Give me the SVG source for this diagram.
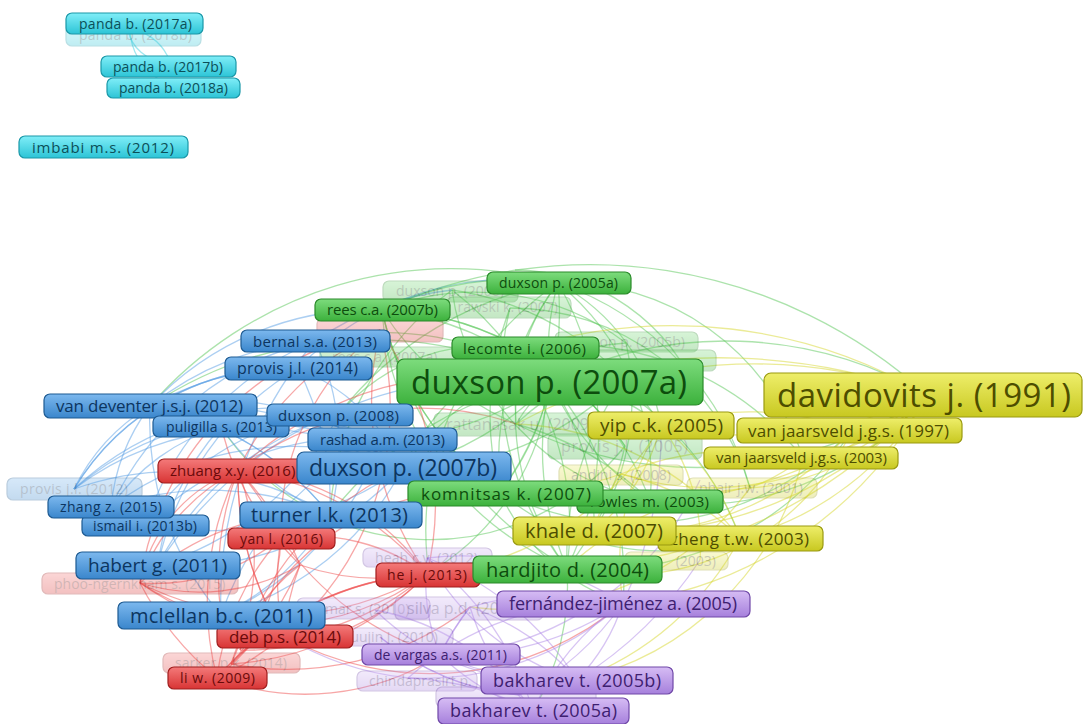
<svg xmlns="http://www.w3.org/2000/svg" width="1089" height="724" viewBox="0 0 1089 724">
<style>
text{font-family:"Open Sans","DejaVu Sans",sans-serif}
.nd rect{stroke-width:1.2}
.f{opacity:.3}
.c rect{fill:url(#gc);stroke:#1a98a8}.c text{fill:#0b4f58}
.g rect{fill:url(#gg);stroke:#2a8a2a}.g text{fill:#0d4d0d}
.y rect{fill:url(#gy);stroke:#9a9a10}.y text{fill:#4d4d00}
.b rect{fill:url(#gb);stroke:#1d5a92}.b text{fill:#0c3560}
.r rect{fill:url(#gr);stroke:#a01e1e}.r text{fill:#6a0a0a}
.p rect{fill:url(#gp);stroke:#7048a8}.p text{fill:#3e2070}
#connectors path{fill:none;stroke-width:1.3;stroke-opacity:.5}
.ec{stroke:#40d0e0}.eg{stroke:#5ac85a}.ey{stroke:#d8d830}.eb{stroke:#5aa0e6}.er{stroke:#f05050}.ep{stroke:#b08ae8}
</style>
<defs>
<linearGradient id="gc" x1="0" y1="0" x2="0" y2="1"><stop offset="0" stop-color="#80eef8"/><stop offset="1" stop-color="#2cc4d6"/></linearGradient>
<linearGradient id="gg" x1="0" y1="0" x2="0" y2="1"><stop offset="0" stop-color="#7ddc7d"/><stop offset="1" stop-color="#3cb13c"/></linearGradient>
<linearGradient id="gy" x1="0" y1="0" x2="0" y2="1"><stop offset="0" stop-color="#eeee6a"/><stop offset="1" stop-color="#c8c820"/></linearGradient>
<linearGradient id="gb" x1="0" y1="0" x2="0" y2="1"><stop offset="0" stop-color="#7cb8ee"/><stop offset="1" stop-color="#3a86cc"/></linearGradient>
<linearGradient id="gr" x1="0" y1="0" x2="0" y2="1"><stop offset="0" stop-color="#f47a7a"/><stop offset="1" stop-color="#d83434"/></linearGradient>
<linearGradient id="gp" x1="0" y1="0" x2="0" y2="1"><stop offset="0" stop-color="#d6bcf4"/><stop offset="1" stop-color="#a680dc"/></linearGradient>
</defs>
<g id="connectors">
<path class="ec" d="M128 30A40 40 0 0 0 165 62"/>
<path class="ec" d="M135 30A50 50 0 0 1 170 62"/>
<path class="ec" d="M130 30A60 60 0 0 0 160 80"/>
<path class="eg" d="M550 382A250 250 0 0 1 558 283"/>
<path class="eg" d="M550 382A300 300 0 0 0 382 310"/>
<path class="eg" d="M550 382A200 200 0 0 1 525 348"/>
<path class="eg" d="M550 382A250 250 0 0 1 500 492"/>
<path class="eg" d="M550 382A300 300 0 0 0 567 568"/>
<path class="eg" d="M550 382A400 400 0 0 1 927 395"/>
<path class="eg" d="M550 382A200 200 0 0 1 661 425"/>
<path class="eg" d="M550 382A250 250 0 0 1 594 531"/>
<path class="eg" d="M550 382A300 300 0 0 0 315 341"/>
<path class="eg" d="M550 382A300 300 0 0 1 403 468"/>
<path class="eg" d="M550 382A300 300 0 0 1 623 603"/>
<path class="eg" d="M550 382A400 400 0 0 0 150 406"/>
<path class="eg" d="M558 283A300 300 0 0 0 382 310"/>
<path class="eg" d="M558 283A300 300 0 0 1 500 492"/>
<path class="eg" d="M558 283A200 200 0 0 1 661 425"/>
<path class="eg" d="M558 283A300 300 0 0 1 567 568"/>
<path class="eg" d="M558 283A400 400 0 0 0 150 406"/>
<path class="eg" d="M558 283A300 300 0 0 1 750 488"/>
<path class="eg" d="M558 283A250 250 0 0 1 803 458"/>
<path class="eg" d="M558 283A300 300 0 0 0 427 558"/>
<path class="eg" d="M382 310A300 300 0 0 0 500 492"/>
<path class="eg" d="M382 310A300 300 0 0 0 567 568"/>
<path class="eg" d="M382 310A500 500 0 0 1 927 395"/>
<path class="eg" d="M382 310A250 250 0 0 1 626 343"/>
<path class="eg" d="M525 348A250 250 0 0 0 567 568"/>
<path class="eg" d="M525 348A300 300 0 0 1 803 458"/>
<path class="eg" d="M525 348A200 200 0 0 0 339 414"/>
<path class="eg" d="M525 348A300 300 0 0 1 740 538"/>
<path class="eg" d="M500 492A250 250 0 0 0 740 538"/>
<path class="eg" d="M500 492A200 200 0 0 0 623 603"/>
<path class="eg" d="M500 492A300 300 0 0 1 558 283"/>
<path class="eg" d="M650 501A300 300 0 0 0 927 395"/>
<path class="eg" d="M650 501A250 250 0 0 1 452 290"/>
<path class="eg" d="M567 568A300 300 0 0 0 852 430"/>
<path class="eg" d="M567 568A250 250 0 0 1 533 711"/>
<path class="eg" d="M567 568A300 300 0 0 1 510 308"/>
<path class="eg" d="M516 424A400 400 0 0 0 927 395"/>
<path class="eg" d="M516 424A250 250 0 0 1 640 360"/>
<path class="eg" d="M452 290A300 300 0 0 1 661 425"/>
<path class="eg" d="M452 290A300 300 0 0 0 330 515"/>
<path class="eg" d="M510 308A250 250 0 0 1 750 488"/>
<path class="eg" d="M626 343A250 250 0 0 1 594 531"/>
<path class="eg" d="M640 360A300 300 0 0 1 403 468"/>
<path class="eg" d="M625 446A300 300 0 0 0 382 310"/>
<path class="eg" d="M625 446A250 250 0 0 1 221 427"/>
<path class="eg" d="M515 270A200 200 0 0 1 700 400"/>
<path class="eg" d="M550 382A350 350 0 0 0 330 515"/>
<path class="eg" d="M550 382A250 250 0 0 1 427 574"/>
<path class="eg" d="M550 382A300 300 0 0 0 650 501"/>
<path class="eg" d="M550 382A200 200 0 0 0 516 424"/>
<path class="eg" d="M550 382A300 300 0 0 1 382 439"/>
<path class="eg" d="M558 283A350 350 0 0 0 339 414"/>
<path class="eg" d="M558 283A250 250 0 0 1 650 501"/>
<path class="eg" d="M558 283A200 200 0 0 0 516 424"/>
<path class="eg" d="M525 348A250 250 0 0 0 403 468"/>
<path class="eg" d="M525 348A300 300 0 0 1 650 501"/>
<path class="eg" d="M500 492A300 300 0 0 1 382 310"/>
<path class="eg" d="M500 492A300 300 0 0 0 852 430"/>
<path class="eg" d="M567 568A300 300 0 0 0 625 446"/>
<path class="eg" d="M567 568A400 400 0 0 1 382 310"/>
<path class="eg" d="M650 501A300 300 0 0 0 516 424"/>
<path class="eg" d="M626 343A300 300 0 0 0 403 468"/>
<path class="eg" d="M640 360A300 300 0 0 0 567 568"/>
<path class="eg" d="M452 290A300 300 0 0 1 567 568"/>
<path class="eg" d="M510 308A300 300 0 0 0 500 492"/>
<path class="eg" d="M382 310A300 300 0 0 1 625 446"/>
<path class="eg" d="M516 424A300 300 0 0 1 382 310"/>
<path class="ey" d="M927 395A400 400 0 0 1 661 425"/>
<path class="ey" d="M927 395A150 150 0 0 1 852 430"/>
<path class="ey" d="M927 395A200 200 0 0 1 803 458"/>
<path class="ey" d="M927 395A400 400 0 0 1 594 531"/>
<path class="ey" d="M927 395A300 300 0 0 1 740 538"/>
<path class="ey" d="M927 395A300 300 0 0 1 621 474"/>
<path class="ey" d="M927 395A250 250 0 0 1 750 488"/>
<path class="ey" d="M927 395A500 500 0 0 0 525 348"/>
<path class="ey" d="M927 395A400 400 0 0 1 623 603"/>
<path class="ey" d="M927 395A500 500 0 0 1 500 492"/>
<path class="ey" d="M927 395A600 600 0 0 0 550 382"/>
<path class="ey" d="M661 425A250 250 0 0 1 740 538"/>
<path class="ey" d="M661 425A250 250 0 0 0 623 603"/>
<path class="ey" d="M661 425A300 300 0 0 1 427 574"/>
<path class="ey" d="M852 430A300 300 0 0 1 594 531"/>
<path class="ey" d="M852 430A250 250 0 0 1 567 568"/>
<path class="ey" d="M803 458A200 200 0 0 1 750 488"/>
<path class="ey" d="M803 458A300 300 0 0 1 577 680"/>
<path class="ey" d="M594 531A150 150 0 0 1 621 474"/>
<path class="ey" d="M740 538A300 300 0 0 1 577 680"/>
<path class="ey" d="M740 538A300 300 0 0 0 516 424"/>
<path class="ey" d="M750 488A300 300 0 0 1 470 607"/>
<path class="ey" d="M621 474A300 300 0 0 1 403 468"/>
<path class="ey" d="M700 560A200 200 0 0 0 661 425"/>
<path class="ey" d="M803 458A300 300 0 0 0 621 474"/>
<path class="ey" d="M927 395A500 500 0 0 0 516 424"/>
<path class="ey" d="M927 395A500 500 0 0 1 567 568"/>
<path class="ey" d="M661 425A200 200 0 0 1 594 531"/>
<path class="ey" d="M852 430A300 300 0 0 0 661 425"/>
<path class="ey" d="M740 538A250 250 0 0 0 621 474"/>
<path class="ey" d="M750 488A300 300 0 0 0 567 568"/>
<path class="eb" d="M315 341A300 300 0 0 0 150 406"/>
<path class="eb" d="M315 341A250 250 0 0 1 330 515"/>
<path class="eb" d="M298 368A300 300 0 0 0 158 565"/>
<path class="eb" d="M298 368A250 250 0 0 0 74 489"/>
<path class="eb" d="M150 406A200 200 0 0 0 111 507"/>
<path class="eb" d="M150 406A300 300 0 0 0 221 615"/>
<path class="eb" d="M150 406A300 300 0 0 1 330 515"/>
<path class="eb" d="M221 427A250 250 0 0 0 158 565"/>
<path class="eb" d="M339 414A250 250 0 0 0 145 526"/>
<path class="eb" d="M382 439A300 300 0 0 1 221 615"/>
<path class="eb" d="M403 468A300 300 0 0 0 150 406"/>
<path class="eb" d="M403 468A300 300 0 0 1 158 565"/>
<path class="eb" d="M403 468A200 200 0 0 0 298 368"/>
<path class="eb" d="M74 489A300 300 0 0 1 330 515"/>
<path class="eb" d="M111 507A300 300 0 0 1 403 468"/>
<path class="eb" d="M145 526A300 300 0 0 1 315 341"/>
<path class="eb" d="M330 515A250 250 0 0 1 221 615"/>
<path class="eb" d="M158 565A400 400 0 0 1 550 382"/>
<path class="eb" d="M221 615A400 400 0 0 1 315 341"/>
<path class="eb" d="M150 406A300 300 0 0 1 382 310"/>
<path class="eb" d="M74 489A250 250 0 0 1 298 368"/>
<path class="eb" d="M111 507A200 200 0 0 1 221 427"/>
<path class="eb" d="M74 489A300 300 0 0 1 339 414"/>
<path class="eb" d="M150 406A400 400 0 0 1 403 468"/>
<path class="eb" d="M221 427A300 300 0 0 1 382 439"/>
<path class="eb" d="M298 368A300 300 0 0 1 558 283"/>
<path class="eb" d="M315 341A300 300 0 0 1 452 290"/>
<path class="eb" d="M145 526A350 350 0 0 0 403 468"/>
<path class="eb" d="M74 489A200 200 0 0 1 150 406"/>
<path class="eb" d="M221 615A300 300 0 0 0 403 468"/>
<path class="eb" d="M315 341A300 300 0 0 0 111 507"/>
<path class="eb" d="M298 368A300 300 0 0 1 330 515"/>
<path class="eb" d="M339 414A300 300 0 0 1 158 565"/>
<path class="eb" d="M382 439A300 300 0 0 0 74 489"/>
<path class="eb" d="M403 468A250 250 0 0 0 221 427"/>
<path class="eb" d="M330 515A300 300 0 0 0 150 406"/>
<path class="eb" d="M158 565A300 300 0 0 1 339 414"/>
<path class="eb" d="M221 615A300 300 0 0 1 382 439"/>
<path class="eb" d="M150 406A300 300 0 0 1 298 368"/>
<path class="eb" d="M111 507A300 300 0 0 1 330 515"/>
<path class="eb" d="M145 526A300 300 0 0 1 382 439"/>
<path class="eb" d="M221 427A250 250 0 0 0 330 515"/>
<path class="eb" d="M74 489A300 300 0 0 1 403 468"/>
<path class="er" d="M238 470A300 300 0 0 0 284 636"/>
<path class="er" d="M238 470A300 300 0 0 0 217 678"/>
<path class="er" d="M238 470A250 250 0 0 1 427 574"/>
<path class="er" d="M238 470A150 150 0 0 0 140 583"/>
<path class="er" d="M281 538A250 250 0 0 0 217 678"/>
<path class="er" d="M281 538A200 200 0 0 1 231 664"/>
<path class="er" d="M427 574A250 250 0 0 1 284 636"/>
<path class="er" d="M427 574A250 250 0 0 1 140 583"/>
<path class="er" d="M284 636A300 300 0 0 1 238 470"/>
<path class="er" d="M217 678A300 300 0 0 1 427 574"/>
<path class="er" d="M140 583A200 200 0 0 0 281 538"/>
<path class="er" d="M231 664A300 300 0 0 1 427 574"/>
<path class="er" d="M281 538A200 200 0 0 1 427 574"/>
<path class="er" d="M238 470A300 300 0 0 0 221 615"/>
<path class="er" d="M284 636A300 300 0 0 0 623 603"/>
<path class="er" d="M427 574A300 300 0 0 0 217 678"/>
<path class="er" d="M380 330A300 300 0 0 0 238 470"/>
<path class="er" d="M380 330A300 300 0 0 1 427 574"/>
<path class="er" d="M300 565A200 200 0 0 1 140 583"/>
<path class="er" d="M300 565A250 250 0 0 0 427 574"/>
<path class="er" d="M240 650A300 300 0 0 1 403 468"/>
<path class="er" d="M240 650A250 250 0 0 1 500 492"/>
<path class="er" d="M217 678A300 300 0 0 1 140 583"/>
<path class="er" d="M284 636A250 250 0 0 1 300 565"/>
<path class="er" d="M140 583A300 300 0 0 1 380 330"/>
<path class="er" d="M427 574A300 300 0 0 0 238 470"/>
<path class="er" d="M231 664A300 300 0 0 0 470 607"/>
<path class="er" d="M281 538A300 300 0 0 0 440 655"/>
<path class="er" d="M238 470A350 350 0 0 1 550 382"/>
<path class="er" d="M300 565A300 300 0 0 1 221 427"/>
<path class="er" d="M217 678A250 250 0 0 0 440 655"/>
<path class="er" d="M140 583A200 200 0 0 1 238 470"/>
<path class="er" d="M231 664A200 200 0 0 1 300 565"/>
<path class="er" d="M427 574A300 300 0 0 1 380 330"/>
<path class="er" d="M238 470A300 300 0 0 1 516 424"/>
<path class="er" d="M238 470A250 250 0 0 1 281 538"/>
<path class="er" d="M238 470A300 300 0 0 1 300 565"/>
<path class="er" d="M281 538A250 250 0 0 0 284 636"/>
<path class="er" d="M427 574A300 300 0 0 1 231 664"/>
<path class="er" d="M140 583A300 300 0 0 0 427 574"/>
<path class="er" d="M284 636A300 300 0 0 0 380 330"/>
<path class="er" d="M217 678A300 300 0 0 0 284 636"/>
<path class="er" d="M300 565A300 300 0 0 1 217 678"/>
<path class="er" d="M238 470A300 300 0 0 0 403 468"/>
<path class="er" d="M380 330A250 250 0 0 0 281 538"/>
<path class="er" d="M140 583A250 250 0 0 1 330 515"/>
<path class="er" d="M231 664A250 250 0 0 0 238 470"/>
<path class="er" d="M240 650A250 250 0 0 0 427 574"/>
<path class="er" d="M284 636A300 300 0 0 1 140 583"/>
<path class="ep" d="M623 603A300 300 0 0 1 440 655"/>
<path class="ep" d="M623 603A200 200 0 0 1 577 680"/>
<path class="ep" d="M623 603A250 250 0 0 0 533 711"/>
<path class="ep" d="M440 655A250 250 0 0 0 533 711"/>
<path class="ep" d="M440 655A200 200 0 0 1 427 558"/>
<path class="ep" d="M470 607A250 250 0 0 1 577 680"/>
<path class="ep" d="M427 558A300 300 0 0 1 533 711"/>
<path class="ep" d="M408 678A300 300 0 0 1 623 603"/>
<path class="ep" d="M577 680A300 300 0 0 0 427 558"/>
<path class="ep" d="M470 607A250 250 0 0 0 440 655"/>
<path class="ep" d="M623 603A300 300 0 0 0 427 558"/>
<path class="ep" d="M533 711A300 300 0 0 0 408 678"/>
<path class="ep" d="M440 655A300 300 0 0 1 470 607"/>
<path class="ep" d="M375 610A250 250 0 0 0 577 680"/>
<path class="ep" d="M380 637A250 250 0 0 0 520 695"/>
<path class="ep" d="M520 695A300 300 0 0 0 623 603"/>
<path class="ep" d="M623 603A400 400 0 0 0 661 425"/>
<path class="ep" d="M577 680A400 400 0 0 0 700 560"/>
<path class="ep" d="M408 678A300 300 0 0 1 284 636"/>
<path class="ep" d="M440 655A300 300 0 0 0 700 480"/>
<path class="ep" d="M623 603A300 300 0 0 1 408 678"/>
<path class="ep" d="M577 680A300 300 0 0 1 440 655"/>
<path class="ep" d="M533 711A250 250 0 0 1 470 607"/>
<path class="ep" d="M427 558A250 250 0 0 0 577 680"/>
<path class="ep" d="M375 610A250 250 0 0 1 533 711"/>
<path class="ep" d="M520 695A250 250 0 0 1 380 637"/>
<path class="ep" d="M470 607A300 300 0 0 1 623 603"/>
</g>
<g id="panda-2018b" class="nd c f"><rect x="66" y="24" width="135" height="22" rx="6"/><text x="79" y="40" font-size="14" textLength="113">panda b. (2018b)</text></g>
<g id="duxson-2006" class="nd g f"><rect x="383" y="281" width="135" height="21" rx="6"/><text x="396" y="296" font-size="14">duxson p. (2006)</text></g>
<g id="rawski-2007" class="nd g f"><rect x="447" y="297" width="124" height="21" rx="6"/><text x="558" y="312" font-size="14" text-anchor="end">rawski k. (2007)</text></g>
<g id="red-faded-1" class="nd r f"><rect x="317" y="318" width="126" height="24" rx="6"/></g>
<g id="rees-2007a" class="nd g f"><rect x="320" y="347" width="140" height="20" rx="6"/><text x="332" y="362" font-size="14">rees c.a. (2007a)</text></g>
<g id="duxson-2005b" class="nd g f"><rect x="555" y="332" width="143" height="20" rx="6"/><text x="685" y="347" font-size="14" text-anchor="end">duxson p. (2005b)</text></g>
<g id="green-faded-1" class="nd g f"><rect x="567" y="350" width="149" height="21" rx="6"/></g>
<g id="rattanasak-2009" class="nd g f"><rect x="434" y="413" width="166" height="23" rx="6"/><text x="446" y="430" font-size="16">rattanasak u. (2009)</text></g>
<g id="provis-2005" class="nd g f"><rect x="548" y="434" width="154" height="25" rx="6"/><text x="561" y="452" font-size="16" textLength="127">provis j.l. (2005)</text></g>
<g id="andini-2008" class="nd y f"><rect x="559" y="465" width="124" height="20" rx="6"/><text x="571" y="480" font-size="14" textLength="100">andini s. (2008)</text></g>
<g id="phair-2001" class="nd y f"><rect x="687" y="478" width="130" height="20" rx="6"/><text x="699" y="493" font-size="14" textLength="104">phair j.w. (2001)</text></g>
<g id="y-2003" class="nd y f"><rect x="625" y="552" width="103" height="18" rx="6"/><text x="716" y="566" font-size="14" text-anchor="end">(2003)</text></g>
<g id="provis-2012" class="nd b f"><rect x="7" y="478" width="135" height="22" rx="6"/><text x="20" y="494" font-size="14" textLength="108">provis j.l. (2012)</text></g>
<g id="phoo-2015" class="nd r f"><rect x="42" y="573" width="196" height="21" rx="6"/><text x="54" y="588.5" font-size="14">phoo-ngernkham s. (2015)</text></g>
<g id="sarker-2014" class="nd r f"><rect x="163" y="653" width="137" height="20" rx="6"/><text x="175" y="668" font-size="14" textLength="112">sarker p.k. (2014)</text></g>
<g id="heah-2012" class="nd p f"><rect x="363" y="548" width="129" height="19" rx="6"/><text x="375" y="562.5" font-size="14" textLength="103">heah c.y. (2012)</text></g>
<g id="kumar-2010" class="nd p f"><rect x="297" y="598" width="133" height="21" rx="6"/><text x="309" y="614" font-size="14">kumar s. (2010)</text></g>
<g id="silva-2007" class="nd p f"><rect x="395" y="597" width="148" height="23" rx="6"/><text x="407" y="614" font-size="16">silva p.d. (2007)</text></g>
<g id="temuujin-2010" class="nd p f"><rect x="315" y="628" width="138" height="18" rx="6"/><text x="438" y="642" font-size="14" text-anchor="end">temuujin j. (2010)</text></g>
<g id="chindaprasirt" class="nd p f"><rect x="357" y="671" width="120" height="20" rx="6"/><text x="369" y="686" font-size="14">chindaprasirt p.</text></g>
<g id="purple-faded-1" class="nd p f"><rect x="436" y="687" width="160" height="20" rx="6"/></g>

<g id="panda-2017a" class="nd c"><rect x="66" y="13" width="137" height="21" rx="6"/><text x="79" y="28.5" font-size="14" textLength="113">panda b. (2017a)</text></g>
<g id="panda-2017b" class="nd c"><rect x="101" y="56" width="135" height="21" rx="6"/><text x="113" y="71.5" font-size="14" textLength="110">panda b. (2017b)</text></g>
<g id="panda-2018a" class="nd c"><rect x="107" y="78" width="133" height="20" rx="6"/><text x="119" y="93" font-size="14" textLength="109">panda b. (2018a)</text></g>
<g id="imbabi-2012" class="nd c"><rect x="19" y="136" width="169" height="22" rx="6"/><text x="32" y="152.5" font-size="15" textLength="142">imbabi m.s. (2012)</text></g>

<g id="duxson-2005a" class="nd g"><rect x="487" y="272" width="144" height="22" rx="6"/><text x="499" y="288" font-size="14" textLength="119">duxson p. (2005a)</text></g>
<g id="rees-2007b" class="nd g"><rect x="315" y="299" width="135" height="22" rx="6"/><text x="327" y="315" font-size="15" textLength="111">rees c.a. (2007b)</text></g>
<g id="bernal-2013" class="nd b"><rect x="241" y="330" width="149" height="22" rx="6"/><text x="253" y="346.5" font-size="15" textLength="124">bernal s.a. (2013)</text></g>
<g id="lecomte-2006" class="nd g"><rect x="452" y="337" width="147" height="22" rx="6"/><text x="463" y="353.5" font-size="15" textLength="123">lecomte i. (2006)</text></g>
<g id="provis-2014" class="nd b"><rect x="225" y="357" width="147" height="23" rx="6"/><text x="237" y="374" font-size="16" textLength="121">provis j.l. (2014)</text></g>
<g id="duxson-2007a" class="nd g"><rect x="397" y="359" width="306" height="46" rx="7"/><text x="411" y="393.5" font-size="33" textLength="276">duxson p. (2007a)</text></g>
<g id="davidovits-1991" class="nd y"><rect x="764" y="373" width="318" height="44" rx="7"/><text x="777" y="406.5" font-size="33" textLength="294">davidovits j. (1991)</text></g>
<g id="van-deventer-2012" class="nd b"><rect x="44" y="394" width="213" height="24" rx="6"/><text x="56" y="412" font-size="17" textLength="187">van deventer j.s.j. (2012)</text></g>
<g id="puligilla-2013" class="nd b"><rect x="153" y="416" width="136" height="21" rx="6"/><text x="166" y="431.5" font-size="14" textLength="111">puligilla s. (2013)</text></g>
<g id="duxson-2008" class="nd b"><rect x="267" y="404" width="146" height="22" rx="6"/><text x="278" y="420.5" font-size="15" textLength="121">duxson p. (2008)</text></g>
<g id="rashad-2013" class="nd b"><rect x="308" y="428" width="149" height="23" rx="6"/><text x="320" y="444.5" font-size="15" textLength="125">rashad a.m. (2013)</text></g>
<g id="yip-2005" class="nd y"><rect x="588" y="412" width="146" height="27" rx="6"/><text x="600" y="432" font-size="19" textLength="123">yip c.k. (2005)</text></g>
<g id="vj-1997" class="nd y"><rect x="737" y="418" width="225" height="25" rx="6"/><text x="748" y="436.5" font-size="17" textLength="201">van jaarsveld j.g.s. (1997)</text></g>
<g id="vj-2003" class="nd y"><rect x="704" y="447" width="194" height="22" rx="6"/><text x="716" y="463" font-size="15" textLength="171">van jaarsveld j.g.s. (2003)</text></g>
<g id="zhuang-2016" class="nd r"><rect x="158" y="459" width="160" height="24" rx="6"/><text x="170" y="476" font-size="15">zhuang x.y. (2016)</text></g>
<g id="duxson-2007b" class="nd b"><rect x="297" y="452" width="214" height="32" rx="7"/><text x="309" y="476" font-size="23" textLength="188">duxson p. (2007b)</text></g>
<g id="rowles-2003" class="nd g"><rect x="577" y="490" width="146" height="23" rx="6"/><text x="590" y="506.5" font-size="15" textLength="119">rowles m. (2003)</text></g>
<g id="komnitsas-2007" class="nd g"><rect x="408" y="481" width="195" height="25" rx="6"/><text x="421" y="499.5" font-size="17" textLength="170">komnitsas k. (2007)</text></g>
<g id="ismail-2013b" class="nd b"><rect x="82" y="515" width="127" height="21" rx="6"/><text x="93" y="530.5" font-size="14" textLength="104">ismail i. (2013b)</text></g>
<g id="zhang-2015" class="nd b"><rect x="48" y="496" width="126" height="22" rx="6"/><text x="60" y="512" font-size="14" textLength="102">zhang z. (2015)</text></g>
<g id="yan-2016" class="nd r"><rect x="228" y="528" width="107" height="21" rx="6"/><text x="240" y="543.5" font-size="14" textLength="83">yan l. (2016)</text></g>
<g id="turner-2013" class="nd b"><rect x="240" y="502" width="182" height="26" rx="6"/><text x="251" y="522" font-size="20" textLength="157">turner l.k. (2013)</text></g>
<g id="zheng-2003" class="nd y"><rect x="658" y="526" width="165" height="25" rx="6"/><text x="670" y="544.5" font-size="17" textLength="139">zheng t.w. (2003)</text></g>
<g id="khale-2007" class="nd y"><rect x="513" y="517" width="163" height="28" rx="6"/><text x="525" y="538" font-size="20" textLength="138">khale d. (2007)</text></g>
<g id="habert-2011" class="nd b"><rect x="76" y="552" width="164" height="27" rx="6"/><text x="88" y="572" font-size="19" textLength="139">habert g. (2011)</text></g>
<g id="he-2013" class="nd r"><rect x="376" y="563" width="104" height="24" rx="6"/><text x="387" y="580" font-size="14" textLength="80">he j. (2013)</text></g>
<g id="hardjito-2004" class="nd g"><rect x="473" y="556" width="189" height="27" rx="6"/><text x="486" y="576.5" font-size="20" textLength="163">hardjito d. (2004)</text></g>
<g id="fernandez-jimenez-2005" class="nd p"><rect x="497" y="591" width="253" height="26" rx="6"/><text x="509" y="610" font-size="18" textLength="228">fernández-jiménez a. (2005)</text></g>
<g id="deb-2014" class="nd r"><rect x="217" y="625" width="136" height="23" rx="6"/><text x="229" y="642.5" font-size="17" textLength="112">deb p.s. (2014)</text></g>
<g id="mclellan-2011" class="nd b"><rect x="118" y="602" width="207" height="27" rx="6"/><text x="130" y="622.5" font-size="20" textLength="183">mclellan b.c. (2011)</text></g>
<g id="de-vargas-2011" class="nd p"><rect x="362" y="644" width="158" height="21" rx="6"/><text x="374" y="659.5" font-size="14" textLength="133">de vargas a.s. (2011)</text></g>
<g id="li-2009" class="nd r"><rect x="168" y="667" width="99" height="22" rx="6"/><text x="180" y="683" font-size="14" textLength="75">li w. (2009)</text></g>
<g id="bakharev-2005b" class="nd p"><rect x="481" y="667" width="192" height="27" rx="6"/><text x="493" y="686.5" font-size="18" textLength="168">bakharev t. (2005b)</text></g>
<g id="bakharev-2005a" class="nd p"><rect x="438" y="698" width="191" height="26" rx="6"/><text x="450" y="717" font-size="18" textLength="167">bakharev t. (2005a)</text></g>
</svg>
